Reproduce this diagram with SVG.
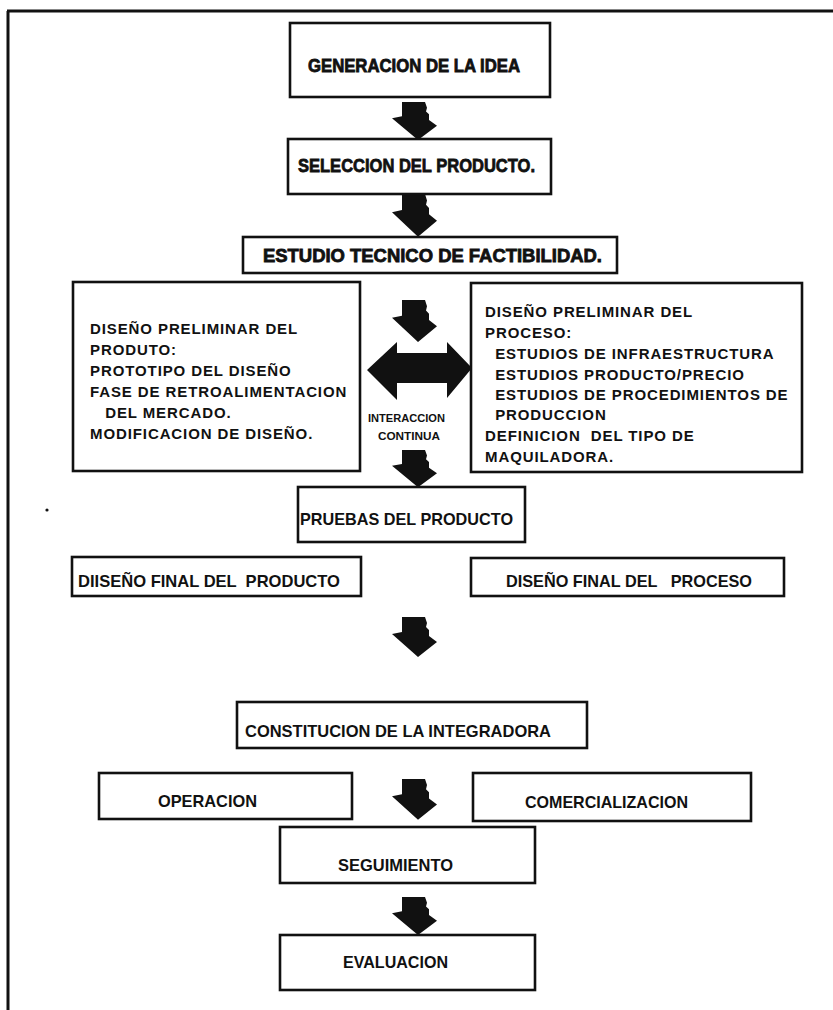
<svg xmlns="http://www.w3.org/2000/svg" xmlns:xlink="http://www.w3.org/1999/xlink" width="833" height="1010" viewBox="0 0 833 1010">
<style>
.box{fill:#fff;stroke:#111;stroke-width:2.6}
.h{font-family:"Liberation Sans",Arial,sans-serif;font-weight:bold;fill:#111;stroke:#111;stroke-width:0.8}
.t{font-family:"Liberation Sans",Arial,sans-serif;font-weight:bold;fill:#111;font-size:17px;white-space:pre}
.m{font-family:"Liberation Sans",Arial,sans-serif;font-weight:bold;fill:#111;font-size:15px;letter-spacing:0.9px;white-space:pre}
.s{font-family:"Liberation Sans",Arial,sans-serif;font-weight:bold;fill:#111;font-size:10.5px}
.ar{fill:#111}
.frame{stroke:#111;stroke-width:3;fill:none}
</style>
<defs>
<path id="dn" d="M10,0 L33,0 L35,6 L34,10 L37,13 L37,19 L45,25 L26,40 L0,17 L10,15 Z"/>
</defs>
<rect width="833" height="1010" fill="#fff"/>
<g id="frame">
<path class="frame" d="M7,11 L833,11 M8,11 L8,1010"/>
<circle cx="47" cy="510" r="1.6" fill="#111"/>
</g>
<g id="connectors">
<use href="#dn" class="ar" transform="translate(392,102) scale(1,0.95)"/>
<use href="#dn" class="ar" transform="translate(392,194) scale(1,1.07)"/>
<use href="#dn" class="ar" transform="translate(392,300) scale(1,1.05)"/>
<path class="ar" d="M367,370 L397,342 L397,353 L447,353 L447,342 L472,368 L447,398 L447,383 L397,383 L397,400 Z"/>
<use href="#dn" class="ar" transform="translate(392,450) scale(1,0.93)"/>
<use href="#dn" class="ar" transform="translate(392,617)"/>
<use href="#dn" class="ar" transform="translate(392,779) scale(1,1.02)"/>
<use href="#dn" class="ar" transform="translate(392,897) scale(1,0.95)"/>
<text class="s" x="368" y="422" textLength="77" lengthAdjust="spacingAndGlyphs">INTERACCION</text>
<text class="s" x="378" y="440" textLength="62" lengthAdjust="spacingAndGlyphs">CONTINUA</text>
</g>
<g id="n-generacion">
<rect class="box" x="290" y="23" width="260" height="74"/>
<text class="h" x="308" y="72" font-size="18" textLength="212" lengthAdjust="spacingAndGlyphs">GENERACION DE LA IDEA</text>
</g>
<g id="n-seleccion">
<rect class="box" x="288" y="139" width="263" height="55"/>
<text class="h" x="298" y="172" font-size="19" textLength="237" lengthAdjust="spacingAndGlyphs">SELECCION DEL PRODUCTO.</text>
</g>
<g id="n-estudio">
<rect class="box" x="243" y="237" width="374" height="36"/>
<text class="h" x="263" y="262" font-size="18" textLength="339" lengthAdjust="spacingAndGlyphs">ESTUDIO TECNICO DE FACTIBILIDAD.</text>
</g>
<g id="n-producto">
<rect class="box" x="73" y="282" width="287" height="189"/>
<text class="m" x="90" y="334">DISEÑO PRELIMINAR DEL</text>
<text class="m" x="90" y="355">PRODUTO:</text>
<text class="m" x="90" y="376">PROTOTIPO DEL DISEÑO</text>
<text class="m" x="90" y="397">FASE DE RETROALIMENTACION</text>
<text class="m" x="90" y="418">   DEL MERCADO.</text>
<text class="m" x="90" y="439">MODIFICACION DE DISEÑO.</text>
</g>
<g id="n-proceso">
<rect class="box" x="471" y="283" width="331" height="189"/>
<text class="m" x="485" y="317">DISEÑO PRELIMINAR DEL</text>
<text class="m" x="485" y="338">PROCESO:</text>
<text class="m" x="485" y="359">  ESTUDIOS DE INFRAESTRUCTURA</text>
<text class="m" x="485" y="380">  ESTUDIOS PRODUCTO/PRECIO</text>
<text class="m" x="485" y="400">  ESTUDIOS DE PROCEDIMIENTOS DE</text>
<text class="m" x="485" y="420">  PRODUCCION</text>
<text class="m" x="485" y="441">DEFINICION  DEL TIPO DE</text>
<text class="m" x="485" y="462">MAQUILADORA.</text>
</g>
<g id="n-pruebas">
<rect class="box" x="298" y="487" width="227" height="55"/>
<text class="t" x="300" y="525" textLength="213" lengthAdjust="spacingAndGlyphs">PRUEBAS DEL PRODUCTO</text>
</g>
<g id="n-final-producto">
<rect class="box" x="72" y="557" width="289" height="39"/>
<text class="t" x="78" y="587" textLength="262" lengthAdjust="spacingAndGlyphs">DIISEÑO FINAL DEL  PRODUCTO</text>
</g>
<g id="n-final-proceso">
<rect class="box" x="471" y="558" width="313" height="38"/>
<text class="t" x="506" y="587" textLength="246" lengthAdjust="spacingAndGlyphs">DISEÑO FINAL DEL   PROCESO</text>
</g>
<g id="n-constitucion">
<rect class="box" x="237" y="702" width="350" height="46"/>
<text class="t" x="245" y="737" textLength="306" lengthAdjust="spacingAndGlyphs">CONSTITUCION DE LA INTEGRADORA</text>
</g>
<g id="n-operacion">
<rect class="box" x="99" y="773" width="253" height="46"/>
<text class="t" x="158" y="807" textLength="99" lengthAdjust="spacingAndGlyphs">OPERACION</text>
</g>
<g id="n-comercializacion">
<rect class="box" x="473" y="773" width="278" height="48"/>
<text class="t" x="525" y="808" textLength="163" lengthAdjust="spacingAndGlyphs">COMERCIALIZACION</text>
</g>
<g id="n-seguimiento">
<rect class="box" x="280" y="827" width="255" height="56"/>
<text class="t" x="338" y="871" textLength="115" lengthAdjust="spacingAndGlyphs">SEGUIMIENTO</text>
</g>
<g id="n-evaluacion">
<rect class="box" x="280" y="935" width="255" height="55"/>
<text class="t" x="343" y="968" textLength="105" lengthAdjust="spacingAndGlyphs">EVALUACION</text>
</g>
</svg>
